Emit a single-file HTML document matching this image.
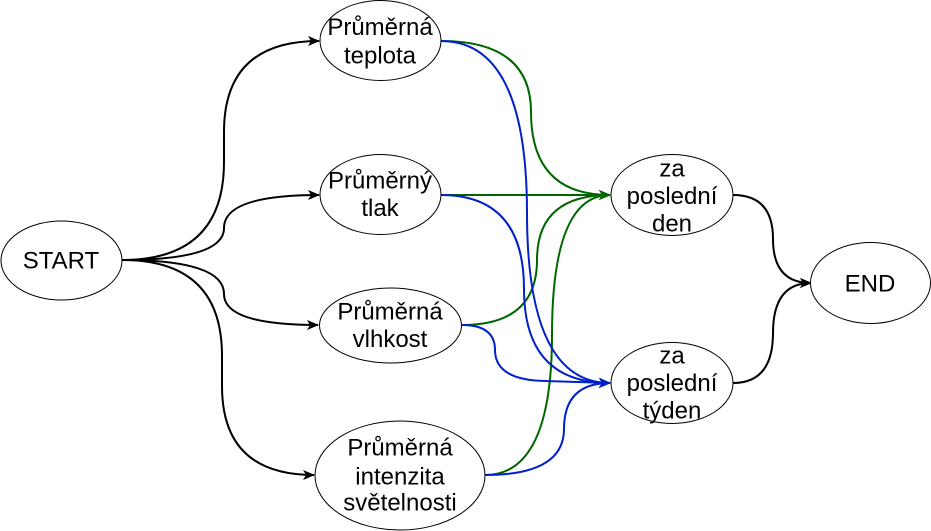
<!DOCTYPE html>
<html><head><meta charset="utf-8"><style>
html,body{margin:0;padding:0;background:#fff;width:931px;height:531px;overflow:hidden}
text{font-family:"Liberation Sans",Arial,sans-serif;font-size:24px;fill:#000;text-anchor:middle;dominant-baseline:central}
</style></head><body>
<svg width="931" height="531" viewBox="0 0 931 531" xmlns="http://www.w3.org/2000/svg">
<defs>
<marker id="ak" markerWidth="12" markerHeight="10" refX="11" refY="5" orient="auto" markerUnits="userSpaceOnUse"><path d="M0,0 L12,5 L0,10 L3,5 Z" fill="#000"/></marker>
<marker id="ag" markerWidth="12" markerHeight="10" refX="11" refY="5" orient="auto" markerUnits="userSpaceOnUse"><path d="M0,0 L12,5 L0,10 L3,5 Z" fill="#006600"/></marker>
<marker id="ab" markerWidth="12" markerHeight="10" refX="11" refY="5" orient="auto" markerUnits="userSpaceOnUse"><path d="M0,0 L12,5 L0,10 L3,5 Z" fill="#0020c8"/></marker>
</defs>
<g fill="none" stroke-width="2">
<g stroke="#000">
<path d="M122 260 Q224 260 224 162 L224 132 Q224 41 319 41" marker-end="url(#ak)"/>
<path d="M122 260 Q224 260 224 228 Q224 195 319 195" marker-end="url(#ak)"/>
<path d="M122 260 Q224 260 224 294 Q224 325 318 325" marker-end="url(#ak)"/>
<path d="M122 260 Q222 260 222 356 L222 386 Q222 475 314 475" marker-end="url(#ak)"/>
<path d="M733 195 Q773 195 773 239 Q773 283 811 283" marker-end="url(#ak)"/>
<path d="M733 383 Q773 383 773 333 Q773 283 811 283" marker-end="url(#ak)"/>
</g>
<g stroke="#006600">
<path d="M441 41 Q531 41 531 112 Q531 195 610 195" marker-end="url(#ag)"/>
<path d="M441 195 L610 195" marker-end="url(#ag)"/>
<path d="M462 325 Q537 325 537 260 Q537 195 610 195" marker-end="url(#ag)"/>
<path d="M485 475 Q552 475 552 335 Q552 195 610 195" marker-end="url(#ag)"/>
</g>
<g stroke="#0020c8">
<path d="M441 41 Q527 41 527 213 Q527 383 610 383" marker-end="url(#ab)"/>
<path d="M441 195 Q524 195 524 289 Q524 383 610 383" marker-end="url(#ab)"/>
<path d="M462 325 Q495 325 495 350 Q495 380 545 381 L610 383" marker-end="url(#ab)"/>
<path d="M485 475 Q564 475 564 429 Q564 383 610 383" marker-end="url(#ab)"/>
</g>
</g>
<g fill="#fff" stroke="#000" stroke-width="1">
<ellipse cx="61.5" cy="260.5" rx="60.5" ry="39.5"/>
<ellipse cx="380.5" cy="40.5" rx="60.5" ry="40"/>
<ellipse cx="380.5" cy="194.5" rx="60.5" ry="40"/>
<ellipse cx="390.5" cy="325.5" rx="71" ry="37.5"/>
<ellipse cx="400" cy="475.5" rx="85" ry="54.5"/>
<ellipse cx="672" cy="195" rx="61" ry="40.5"/>
<ellipse cx="672" cy="383" rx="61" ry="40.5"/>
<ellipse cx="870.5" cy="283" rx="60" ry="40.5"/>
</g>
<text x="61" y="261">START</text>
<text x="380" y="27.5">Průměrná</text><text x="380" y="56">teplota</text>
<text x="380" y="181">Průměrný</text><text x="380" y="208.5">tlak</text>
<text x="390" y="312">Průměrná</text><text x="390" y="339.5">vlhkost</text>
<text x="400" y="448">Průměrná</text><text x="400" y="477">intenzita</text><text x="400" y="503">světelnosti</text>
<text x="672" y="169">za</text><text x="672" y="196.5">poslední</text><text x="672" y="224">den</text>
<text x="672" y="356">za</text><text x="672" y="383.5">poslední</text><text x="672" y="411">týden</text>
<text x="870" y="284">END</text>
</svg>
</body></html>
